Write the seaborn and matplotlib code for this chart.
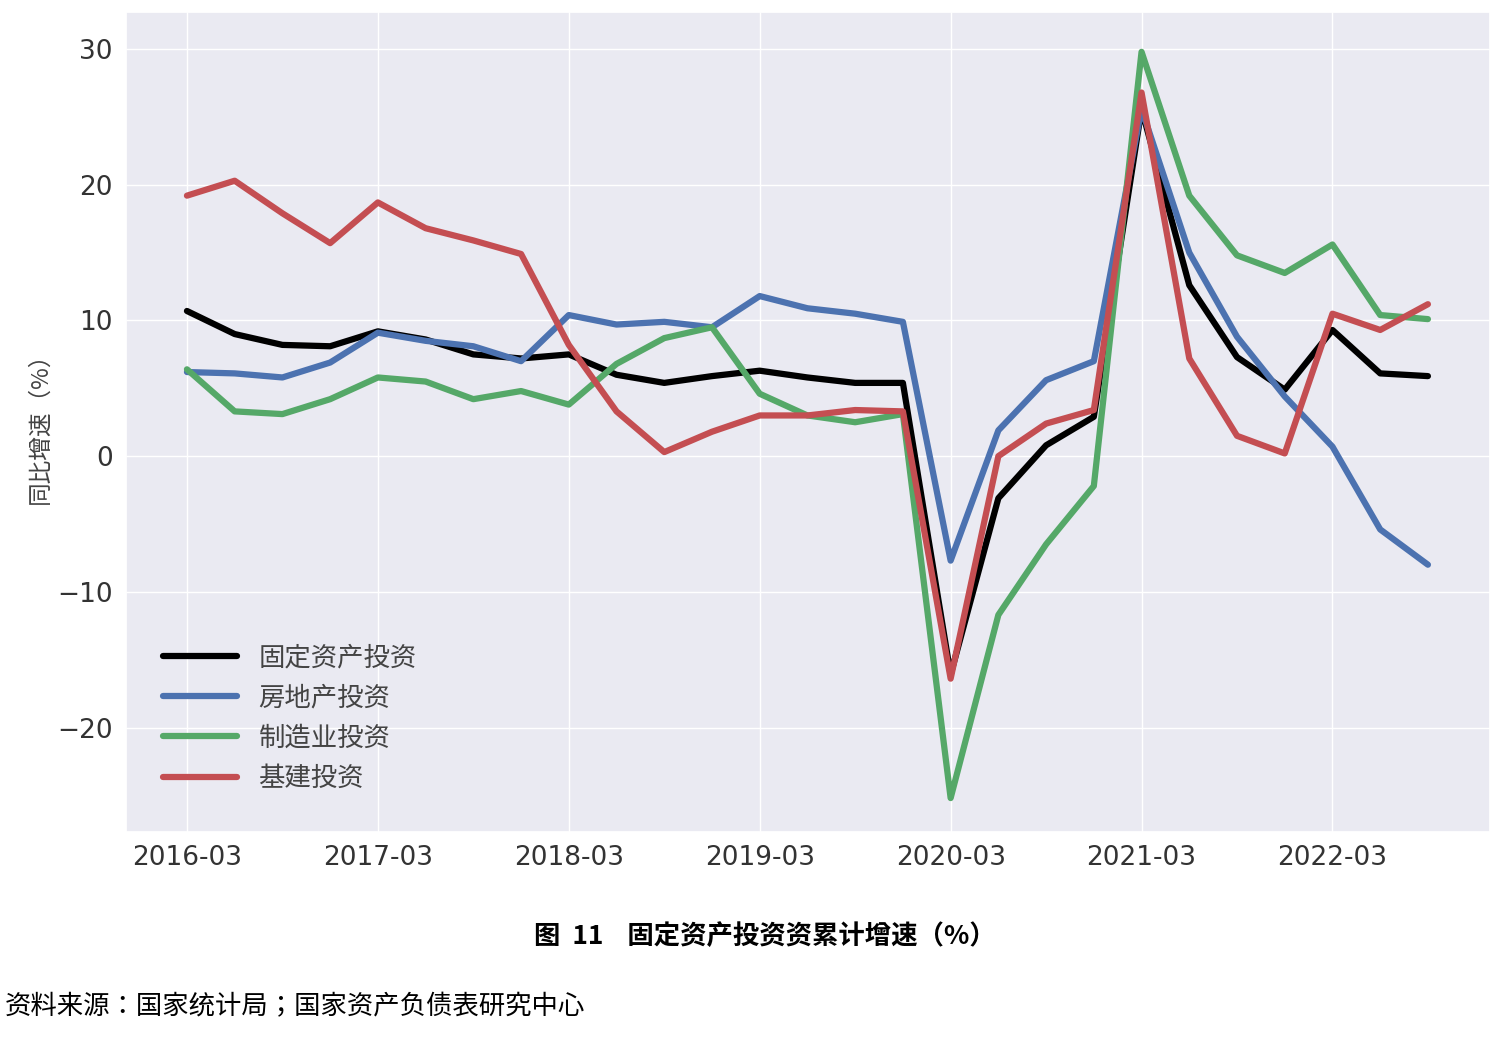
import numpy as np
import pandas as pd
import matplotlib
matplotlib.use("Agg")
import matplotlib.pyplot as plt
from matplotlib import font_manager
import seaborn as sns

quarters = pd.period_range("2016-03", "2022-09", freq="3M").strftime("%Y-%m").tolist()
fixed_asset = [10.7, 9.0, 8.2, 8.1, 9.2, 8.6, 7.5, 7.2, 7.5, 6.0, 5.4, 5.9, 6.3, 5.8, 5.4, 5.4,
               -16.1, -3.1, 0.8, 2.9, 25.6, 12.6, 7.3, 4.9, 9.3, 6.1, 5.9]
real_estate = [6.2, 6.1, 5.8, 6.9, 9.1, 8.5, 8.1, 7.0, 10.4, 9.7, 9.9, 9.5, 11.8, 10.9, 10.5, 9.9,
               -7.7, 1.9, 5.6, 7.0, 25.6, 15.0, 8.8, 4.4, 0.7, -5.4, -8.0]
manufacturing = [6.4, 3.3, 3.1, 4.2, 5.8, 5.5, 4.2, 4.8, 3.8, 6.8, 8.7, 9.5, 4.6, 3.0, 2.5, 3.1,
                 -25.2, -11.7, -6.5, -2.2, 29.8, 19.2, 14.8, 13.5, 15.6, 10.4, 10.1]
infrastructure = [19.2, 20.3, 17.9, 15.7, 18.7, 16.8, 15.9, 14.9, 8.2, 3.3, 0.3, 1.8, 3.0, 3.0, 3.4, 3.3,
                  -16.4, 0.0, 2.4, 3.4, 26.8, 7.2, 1.5, 0.2, 10.5, 9.3, 11.2]
series_names = ["固定资产投资", "房地产投资", "制造业投资", "基建投资"]
colors = ["black", "#4C72B0", "#55A868", "#C44E52"]

avail = {f.name for f in font_manager.fontManager.ttflist}
cjk = next((n for n in ["Noto Sans CJK SC", "Noto Sans CJK JP", "Noto Sans CJK TC", "Noto Sans CJK KR"]
            if n in avail), "DejaVu Sans")

sns.set_theme(style="darkgrid", font=cjk, rc={"axes.unicode_minus": True})
plt.rcParams["font.family"] = [cjk, "DejaVu Sans"]

rows = []
for name, vals in zip(series_names, [fixed_asset, real_estate, manufacturing, infrastructure]):
    for i, v in enumerate(vals):
        rows.append({"idx": i, "val": v, "series": name})
df = pd.DataFrame(rows)

fig = plt.figure(figsize=(15, 10.4), dpi=100)
ax = fig.add_axes([0.084, 0.2, 0.909, 0.788])
sns.lineplot(data=df, x="idx", y="val", hue="series", hue_order=series_names,
             palette=colors, linewidth=4.5, ax=ax)
ax.set_xlim(-1.277, 27.29)
ax.set_ylim(-27.7, 32.7)
ax.set_xticks(range(0, 27, 4))
ax.set_xticklabels([quarters[i] for i in range(0, 27, 4)], fontsize=19, family="DejaVu Sans")
ax.set_yticks([-20, -10, 0, 10, 20, 30])
ax.set_yticklabels(["−20", "−10", "0", "10", "20", "30"], fontsize=19, family="DejaVu Sans")
ax.set_xlabel("")
ax.set_ylabel("同比增速（%）", fontsize=17, color="#444444")
ax.tick_params(colors="#333333")
leg = ax.legend(loc="lower left", fontsize=19, frameon=False, handlelength=2.8,
                bbox_to_anchor=(0.01, 0.02))
for t in leg.get_texts():
    t.set_color("#444444")
fig.text(0.51, 0.1, "图  11    固定资产投资资累计增速（%）", ha="center", va="center",
         fontsize=19, fontweight="bold", color="black")
fig.text(0.003, 0.032, "资料来源：国家统计局；国家资产负债表研究中心", ha="left", va="center",
         fontsize=19, color="black")
fig.savefig("out.png", dpi=100, facecolor="white")
